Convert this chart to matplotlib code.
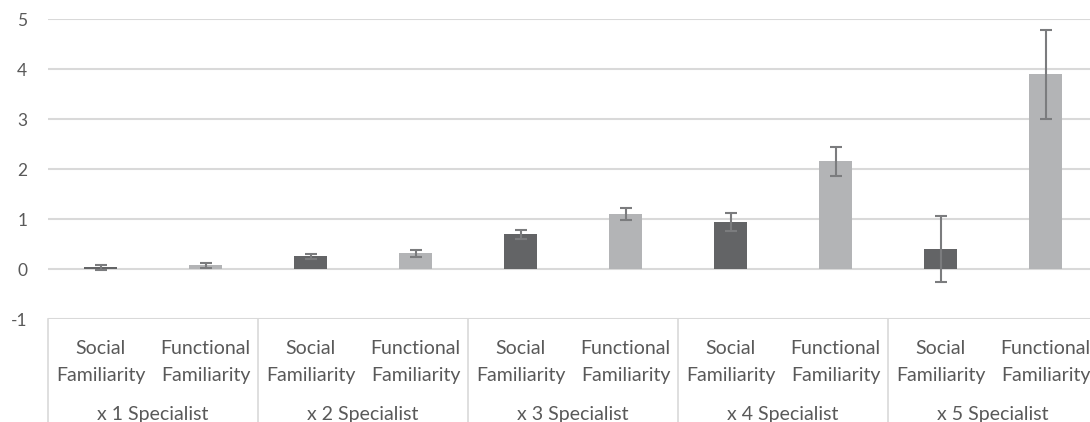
import numpy as np
import matplotlib.pyplot as plt
import matplotlib.transforms as mtransforms

plt.rcParams['font.family'] = ['Lato', 'DejaVu Sans']
plt.rcParams['axes.unicode_minus'] = False

groups = ['x 1 Specialist', 'x 2 Specialist', 'x 3 Specialist', 'x 4 Specialist', 'x 5 Specialist']
series_top = ['Social', 'Functional']
series_bottom = ['Familiarity', 'Familiarity']
social_mean = [0.04, 0.26, 0.70, 0.94, 0.40]
social_err = [0.05, 0.05, 0.09, 0.18, 0.66]
functional_mean = [0.08, 0.32, 1.10, 2.16, 3.90]
functional_err = [0.05, 0.07, 0.12, 0.29, 0.89]

dark = '#636466'
light = '#b3b4b6'
err_col = '#7b7c7e'
text_col = '#595959'
grid_col = '#d9d9d9'

fig = plt.figure(figsize=(10.9, 4.22), dpi=100)
# axes runs slightly past the right edge of the figure
ax = fig.add_axes([48 / 1090, 1 - 319 / 422, 1050 / 1090, 300 / 422])

n = len(groups)
x_social = np.arange(n) * 2
x_func = x_social + 1
bw = 0.31
ekw = dict(ecolor=err_col, elinewidth=1.5, capsize=4, capthick=1.5)
ax.bar(x_social, social_mean, bw, color=dark, yerr=social_err, error_kw=ekw, zorder=3)
ax.bar(x_func, functional_mean, bw, color=light, yerr=functional_err, error_kw=ekw, zorder=3)

ax.set_xlim(-0.5, 2 * n - 0.5)
ax.set_ylim(-1, 5)
ax.set_yticks(range(-1, 6))
ax.yaxis.grid(True, color=grid_col, linewidth=1.5, zorder=0)
ax.tick_params(axis='y', length=0, pad=15, labelsize=12.5, labelcolor=text_col)
ax.set_xticks([])
for s in ax.spines.values():
    s.set_visible(False)

# two-level category axis below the plot
trans = mtransforms.blended_transform_factory(ax.transData, ax.transAxes)
y_bot = -0.4
for g in range(n + 1):
    ax.plot([2 * g - 0.5, 2 * g - 0.5], [0, y_bot], transform=trans,
            color=grid_col, linewidth=1.2, clip_on=False)
for g, name in enumerate(groups):
    for k in range(2):
        ax.text(2 * g + k, -0.117, series_top[k], transform=trans, ha='center',
                va='baseline', fontsize=14, color=text_col)
        ax.text(2 * g + k, -0.207, series_bottom[k], transform=trans, ha='center',
                va='baseline', fontsize=14, color=text_col)
    ax.text(2 * g + 0.5, -0.337, name, transform=trans, ha='center', va='baseline',
            fontsize=14, color=text_col)

fig.savefig('out.png', dpi=100)
